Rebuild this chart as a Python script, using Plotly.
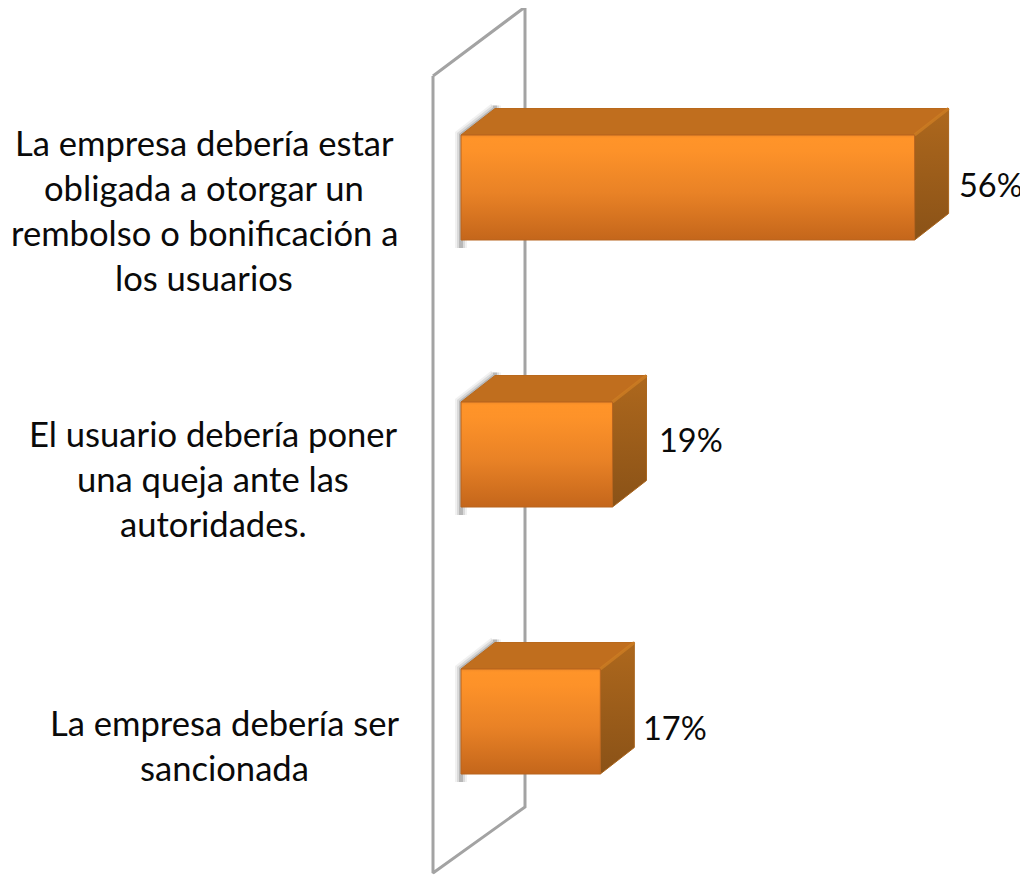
import plotly.graph_objects as go

# ---- data ----
categories = [
    ["La empresa debería estar", "obligada a otorgar un", "rembolso o bonificación a", "los usuarios"],
    ["El usuario debería poner", "una queja ante las", "autoridades."],
    ["La empresa debería ser", "sancionada"],
]
values = [56, 18.7, 17.2]
value_labels = ["56%", "19%", "17%"]

# ---- scale: pixels per axis unit (the page body has an 8 px margin) ----
PAGE = 8
W, H = 1028 - PAGE, 875 - PAGE
PX_X, PX_Y = 8.1, 267.0
X0_PX, Y0_PX = 461.0 - PAGE, 187.5 - PAGE
xr = [-X0_PX / PX_X, (W - X0_PX) / PX_X]
yr = [(H - Y0_PX) / PX_Y, -Y0_PX / PX_Y]

half = 52.5 / PX_Y
dx, dy = 34.0 / PX_X, 26.5 / PX_Y

front_cs = [[0, "#C4661B"], [0.45, "#E98226"], [0.85, "#FD9229"], [0.97, "#FF9429"], [1, "#F08A28"]]
side_cs = [[0, "#8A5217"], [1, "#AE681D"]]
TOP = "#C06E1E"
WALL = "#A3A3A3"
FONT = "Lato"
TEXT = "#0A0A0A"

# placement of the texts, in pixels
cat_center_px = [204, 213, 224]
cat_mid_px = [210, 478, 744.5]      # vertical middle of each label block
LINE_H = 45
lab_shift_x = [42.5, 44.5, 41]
lab_shift_y = [3.5, 15.5, -5.5]

fig = go.Figure()


def poly(xs, ys, **kw):
    fig.add_trace(go.Scatter(x=xs, y=ys, mode="lines", fill="toself", hoverinfo="skip",
                             showlegend=False, **kw))


# back wall (category axis plane)
wx0, wx1 = -28.0 / PX_X, 64.0 / PX_X
wy_top_l, wy_top_r = (76 - 187.5) / PX_Y, (7 - 187.5) / PX_Y
wy_bot_r, wy_bot_l = (807 - 187.5) / PX_Y, (873 - 187.5) / PX_Y
fig.add_trace(go.Scatter(x=[wx0, wx1, wx1, wx0, wx0], y=[wy_top_l, wy_top_r, wy_bot_r, wy_bot_l, wy_top_l],
                         mode="lines", line=dict(color=WALL, width=3), hoverinfo="skip", showlegend=False))

for i, v in enumerate(values):
    t, b = i - half, i + half
    # soft shadow behind the bar's left edge
    for width, alpha in [(12, 0.08), (8, 0.14), (4, 0.25)]:
        fig.add_trace(go.Scatter(x=[0, 0, dx, dx],
                                 y=[b + 8 / PX_Y, t, t - dy, t - dy - 3 / PX_Y],
                                 mode="lines",
                                 line=dict(color=f"rgba(80,80,80,{alpha})", width=width),
                                 hoverinfo="skip", showlegend=False))
    # top face
    poly([0, v, v + dx, dx, 0], [t, t, t - dy, t - dy, t],
         line=dict(color="#B9691C", width=1), fillcolor=TOP)
    # side face
    poly([v, v + dx, v + dx, v, v], [t, t - dy, b - dy, b, t],
         line=dict(color="#A9641C", width=1),
         fillgradient=dict(type="vertical", colorscale=side_cs))
    # bevel along the top-right corner
    fig.add_trace(go.Scatter(x=[v, v + dx], y=[t, t - dy], mode="lines",
                             line=dict(color="rgba(205,125,35,0.8)", width=3),
                             hoverinfo="skip", showlegend=False))
    # front face
    poly([0, v, v, 0, 0], [t, t, b, b, t],
         line=dict(color="#B8651F", width=1),
         fillgradient=dict(type="vertical", colorscale=front_cs))

annotations = []
for i, (lines, v, lab) in enumerate(zip(categories, values, value_labels)):
    n = len(lines)
    for k, s in enumerate(lines):
        annotations.append(dict(x=0, y=i, xref="x", yref="y", text=s, showarrow=False,
                                xanchor="center", yanchor="middle",
                                xshift=cat_center_px[i] - 461,
                                yshift=(187.5 + i * PX_Y) - cat_mid_px[i] - (k - (n - 1) / 2) * LINE_H,
                                font=dict(family=FONT, size=34.6, color=TEXT)))
    annotations.append(dict(x=v, y=i, xref="x", yref="y", text=lab, showarrow=False,
                            xanchor="left", yanchor="middle",
                            xshift=lab_shift_x[i], yshift=lab_shift_y[i],
                            font=dict(family=FONT, size=32.5, color=TEXT)))

fig.update_layout(
    width=W, height=H, autosize=False,
    margin=dict(l=0, r=0, t=0, b=0),
    paper_bgcolor="white", plot_bgcolor="white",
    xaxis=dict(range=xr, visible=False, fixedrange=True),
    yaxis=dict(range=yr, visible=False, fixedrange=True),
    annotations=annotations,
    showlegend=False,
)
fig.write_html("out.html", config={"displayModeBar": False})
